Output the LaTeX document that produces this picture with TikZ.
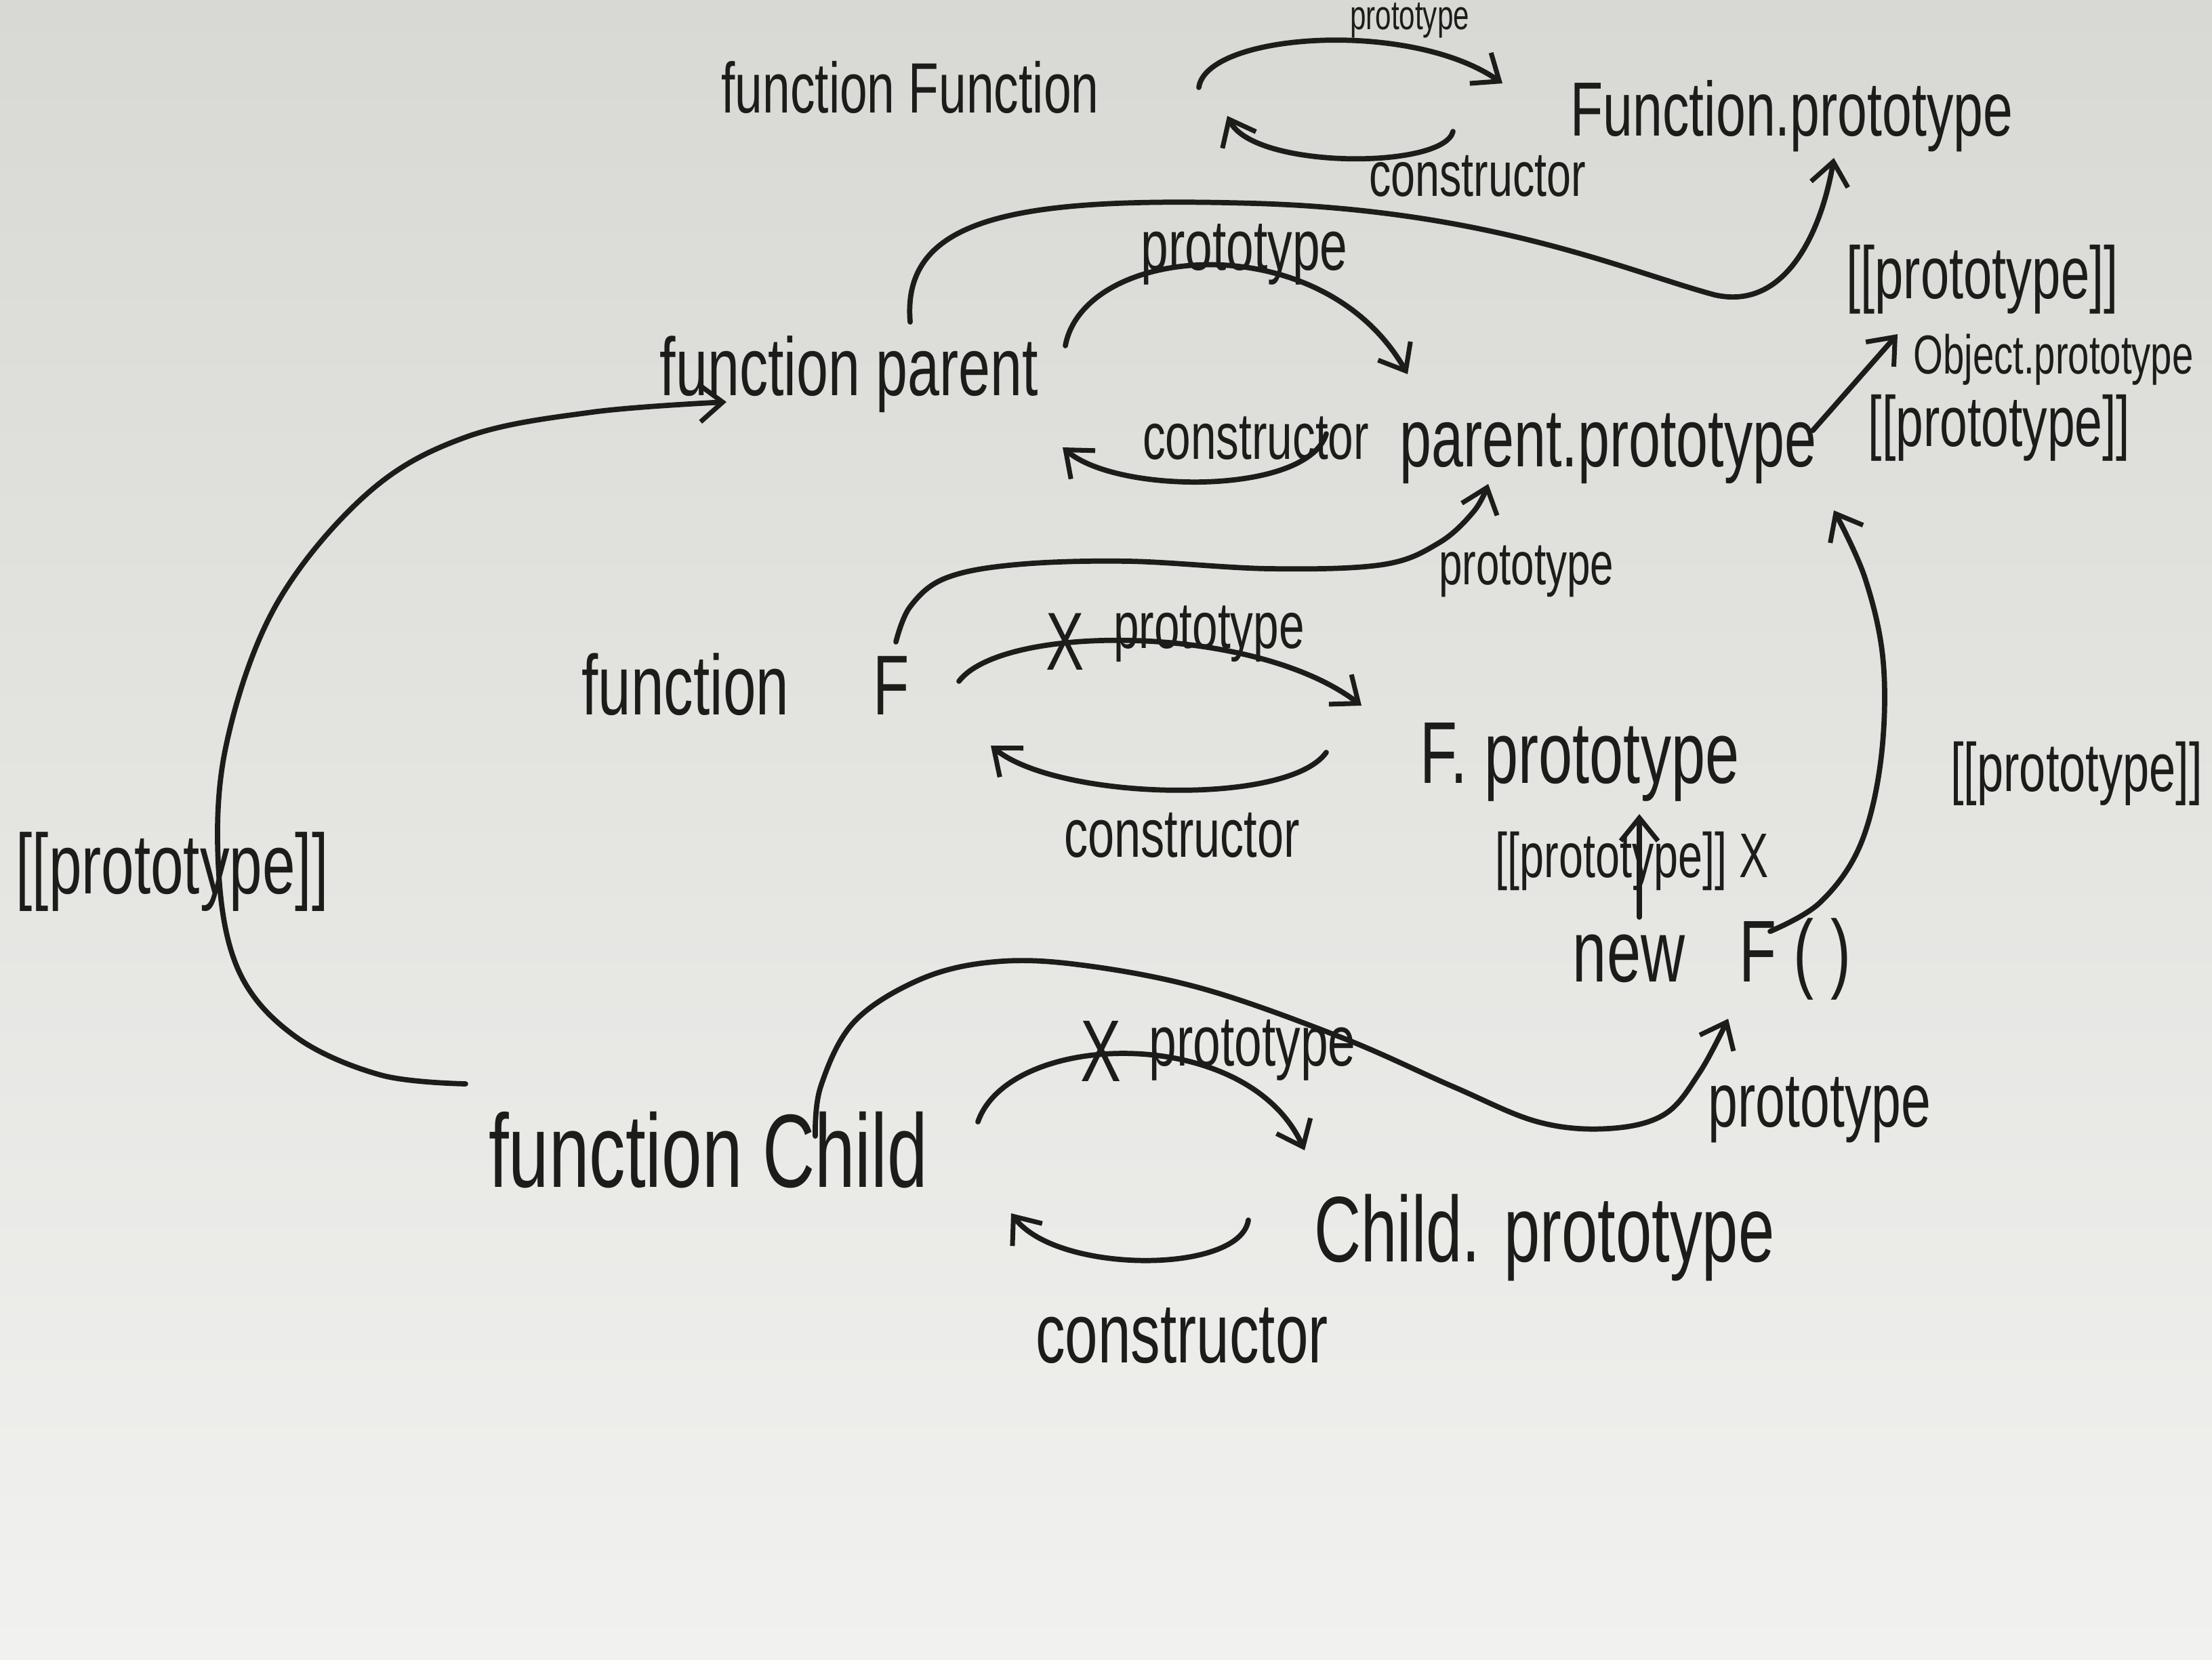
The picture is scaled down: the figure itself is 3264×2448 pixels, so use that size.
\documentclass[tikz,border=0pt]{standalone}
\usepackage{fontspec}
\usepackage{graphicx}
\setmainfont{Liberation Sans}
\usetikzlibrary{arrows.meta}
\definecolor{ink}{RGB}{28,28,26}
\definecolor{paperTop}{RGB}{216,216,212}
\definecolor{paperBot}{RGB}{241,241,239}
\newcommand{\hw}[2]{{\fontsize{#1}{#1}\selectfont\scalebox{0.8}[1.15]{#2}}}
\begin{document}
\begin{tikzpicture}[x=0.01cm,y=-0.01cm,
  txt/.style={inner sep=0pt, text=ink},
  conn/.style={draw=ink, line width=2.2pt, line cap=round, line join=round,
    -{Straight Barb[length=0.34cm,width=0.55cm,line width=2pt]}},
  xmark/.style={inner sep=0pt, text=ink}]
\useasboundingbox (0,0) rectangle (3264,2448);
\clip (0,0) rectangle (3264,2448);
\shade[top color=paperTop, bottom color=paperBot] (0,0) rectangle (3264,2448);

% main nodes
\node[txt] (fnFunction) at (1343,129) {\hw{26}{function Function}};
\node[txt] (FunctionProto) at (2644,171) {\hw{28}{Function.prototype}};
\node[txt] (fnParent) at (1253,552) {\hw{30}{function parent}};
\node[txt] (parentProto) at (2373,662) {\hw{30}{parent.prototype}};
\node[txt] (ObjectProto) at (3030,531) {\hw{20}{Object.prototype}};
\node[txt] (fnF) at (1100,1010) {\hw{31}{function\hspace{1.55cm}F}};
\node[txt] (FProto) at (2331,1124) {\hw{32}{F. prototype}};
\node[txt] (newF) at (2526,1415) {\hw{32}{new\hspace{1cm}F ( )}};
\node[txt] (fnChild) at (1045,1697) {\hw{38}{function Child}};
\node[txt] (ChildProto) at (2279,1826) {\hw{34}{Child. prototype}};

% labels
\node[txt] (lblFP) at (2080,30) {\hw{15}{prototype}};
\node[txt] (lblFC) at (2180,260) {\hw{23}{constructor}};
\node[txt] (lblPP) at (2925,412) {\hw{27}{[[prototype]]}};
\node[txt] (lblParProto) at (1836,375) {\hw{26}{prototype}};
\node[txt] (lblParCons) at (1853,647) {\hw{24}{constructor}};
\node[txt] (lblObj) at (2950,631) {\hw{26}{[[prototype]]}};
\node[txt] (lblLeft) at (254,1286) {\hw{31}{[[prototype]]}};
\node[txt] (lblFParent) at (2252,843) {\hw{22}{prototype}};
\node[txt] (lblFArc) at (1784,935) {\hw{24}{prototype}};
\node[xmark] (xF) at (1572,947) {\hw{30}{X}};
\node[txt] (lblFCons) at (1744,1232) {\hw{25}{constructor}};
\node[txt] (lblNewF) at (2408,1270) {\hw{23}{[[prototype]] X}};
\node[txt] (lblRight) at (3064,1141) {\hw{25}{[[prototype]]}};
\node[txt] (lblChildNew) at (2685,1638) {\hw{28}{prototype}};
\node[txt] (lblChildArc) at (1848,1549) {\hw{26}{prototype}};
\node[xmark] (xChild) at (1624,1551) {\hw{32}{X}};
\node[txt] (lblChildCons) at (1744,1971) {\hw{31}{constructor}};

% Function <-> Function.prototype
\draw[conn] ([shift={(426,0)}]fnFunction.center) .. controls +(11,-80) and +(-137,-95) .. ([shift={(-427,-48)}]FunctionProto.center);
\draw[conn] ([shift={(-500,23)}]FunctionProto.center) .. controls +(-14,56) and +(39,79) .. ([shift={(468,42)}]fnFunction.center);

% parent [[prototype]] -> Function.prototype
\draw[conn] ([shift={(90,-77)}]fnParent.center) .. controls (1330,320) and (1500,290) .. (1850,300)
  .. controls (2200,310) and (2400,400) .. (2530,435)
  .. controls (2640,460) and (2690,330) .. ([shift={(62,62)}]FunctionProto.center);

% parent <-> parent.prototype
\draw[conn] ([shift={(319,-42)}]fnParent.center) .. controls +(28,-150) and +(-127,-222) .. ([shift={(-296,-110)}]parentProto.center);
\draw[conn] ([shift={(-416,-22)}]parentProto.center) .. controls +(-27,90) and +(82,70) .. ([shift={(315,108)}]fnParent.center);

% parent.prototype -> Object.prototype
\draw[conn] ([shift={(302,-27)}]parentProto.center) -- ([shift={(-230,-38)}]ObjectProto.center);

% Child [[prototype]] -> parent
\draw[conn] plot[smooth, tension=0.6] coordinates {([shift={(-358,-98)}]fnChild.center) (562,1586) (437,1530) (354,1436) (323,1291) (333,1103) (406,895) (541,729) (687,645) (874,608) ([shift={(-181,41)}]fnParent.center)};

% F prototype -> parent.prototype
\draw[conn] plot[smooth, tension=0.6] coordinates {([shift={(222,-63)}]fnF.center) (1343,895) (1395,853) (1499,833) (1665,828) (1873,839) (2040,833) (2123,801) (2175,754) ([shift={(-177,52)}]parentProto.center)};

% F <-> F.prototype
\draw[conn] ([shift={(315,-5)}]fnF.center) .. controls +(65,-85) and +(-159,-121) .. ([shift={(-322,-83)}]FProto.center);
\draw[conn] ([shift={(-374,-14)}]FProto.center) .. controls +(-57,80) and +(98,80) .. ([shift={(362,90)}]fnF.center);

% new F() -> F.prototype
\draw[conn] ([shift={(-107,-62)}]newF.center) -- ([shift={(88,77)}]FProto.center);

% new F() -> parent.prototype
\draw[conn] plot[smooth, tension=0.6] coordinates {([shift={(86,-41)}]newF.center) (2685,1332) (2744,1249) (2775,1124) (2779,978) (2752,853) ([shift={(333,91)}]parentProto.center)};

% Child prototype -> new F()
\draw[conn] plot[smooth, tension=0.6] coordinates {([shift={(158,-21)}]fnChild.center) (1211,1603) (1259,1509) (1353,1447) (1457,1420) (1582,1422) (1769,1457) (1978,1530) (2144,1603) (2269,1655) (2373,1665) (2456,1644) (2508,1582) ([shift={(24,88)}]newF.center)};

% Child <-> Child.prototype
\draw[conn] ([shift={(398,-42)}]fnChild.center) .. controls +(47,-135) and +(-85,-187) .. ([shift={(-354,-129)}]ChildProto.center);
\draw[conn] ([shift={(-437,-26)}]ChildProto.center) .. controls +(-12,80) and +(68,90) .. ([shift={(447,93)}]fnChild.center);
\end{tikzpicture}
\end{document}
